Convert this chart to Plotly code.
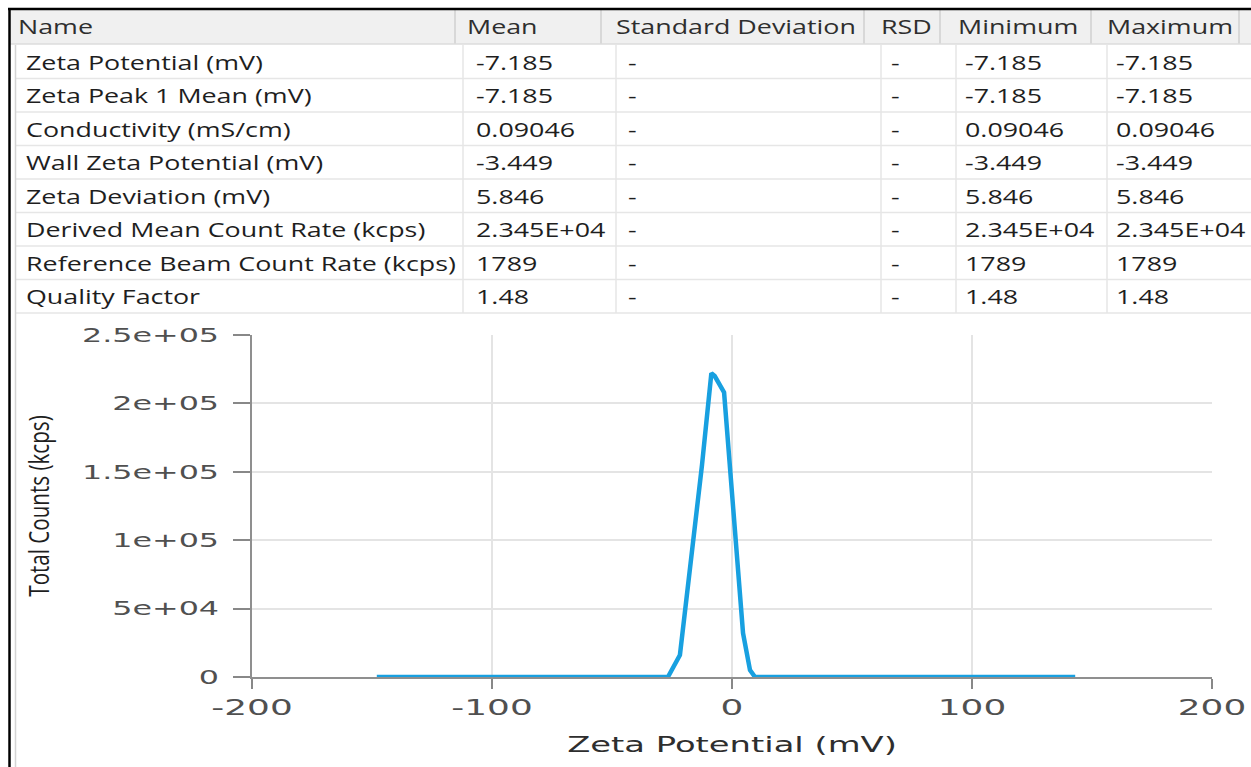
import plotly.graph_objects as go

W, H = 1251, 767

# ---- summary table ----
header_labels = ["Name", "Mean", "Standard Deviation", "RSD", "Minimum", "Maximum"]
row_names = [
    "Zeta Potential (mV)",
    "Zeta Peak 1 Mean (mV)",
    "Conductivity (mS/cm)",
    "Wall Zeta Potential (mV)",
    "Zeta Deviation (mV)",
    "Derived Mean Count Rate (kcps)",
    "Reference Beam Count Rate (kcps)",
    "Quality Factor",
]
mean_vals = ["-7.185", "-7.185", "0.09046", "-3.449", "5.846", "2.345E+04", "1789", "1.48"]
std_vals = ["-", "-", "-", "-", "-", "-", "-", "-"]
rsd_vals = ["-", "-", "-", "-", "-", "-", "-", "-"]
min_vals = ["-7.185", "-7.185", "0.09046", "-3.449", "5.846", "2.345E+04", "1789", "1.48"]
max_vals = ["-7.185", "-7.185", "0.09046", "-3.449", "5.846", "2.345E+04", "1789", "1.48"]

# ---- zeta potential distribution ----
zeta_mv = [-148, -26.7, -21.7, -17.0, -12.5, -8.6, -7.2, -3.3, 0.5, 4.6, 7.5, 9.6, 143]
total_counts = [0, 0, 1.6e4, 8.7e4, 1.55e5, 2.22e5, 2.2e5, 2.08e5, 1.23e5, 3.2e4, 5e3, 0, 0]

x_tick_vals = [-200, -100, 0, 100, 200]
x_tick_text = ["-200", "-100", "0", "100", "200"]
y_tick_vals = [0, 5e4, 1e5, 1.5e5, 2e5, 2.5e5]
y_tick_text = ["0", "5e+04", "1e+05", "1.5e+05", "2e+05", "2.5e+05"]


def fx(x):
    return x / W


def fy(y):
    return 1 - y / H


# table geometry (pixels)
HEAD_TOP, HEAD_BOT = 10, 44
ROW_TOP, ROW_H = 45, 33.5
HEAD_EDGES = [10, 455, 601, 864, 940, 1091, 1239]
HEAD_TEXT_X = [16, 465, 614, 879, 956, 1105]
BODY_EDGES = [16, 463, 616, 881, 956, 1107]
BODY_TEXT_X = [24, 474, 626, 889, 963, 1114]

TABLE_FONT = dict(family="Open Sans", size=20.5, color="#1e1e1e", weight=500)

shapes = []
annotations = []


def hline(y, x0, x1, color, width):
    shapes.append(dict(type="line", xref="paper", yref="paper", x0=fx(x0), x1=fx(x1),
                       y0=fy(y), y1=fy(y), line=dict(color=color, width=width), layer="below"))


def vline(x, y0, y1, color, width):
    shapes.append(dict(type="line", xref="paper", yref="paper", x0=fx(x), x1=fx(x),
                       y0=fy(y0), y1=fy(y1), line=dict(color=color, width=width), layer="below"))


# header band
shapes.append(dict(type="rect", xref="paper", yref="paper", x0=fx(10), x1=fx(W),
                   y0=fy(HEAD_BOT), y1=fy(HEAD_TOP), fillcolor="#f0f0f0",
                   line=dict(width=0), layer="below"))
for e in HEAD_EDGES[1:]:
    vline(e, HEAD_TOP, HEAD_BOT, "#d8d8d8", 2)
hline(HEAD_BOT, 10, W, "#dcdcdc", 1.5)

n_rows = len(row_names)
body_bottom = ROW_TOP + ROW_H * n_rows
for i in range(1, n_rows + 1):
    hline(ROW_TOP + ROW_H * i, 16, W, "#e6e6e6", 1.5)
for e in BODY_EDGES[1:]:
    vline(e, ROW_TOP, body_bottom, "#e6e6e6", 1.5)
# panel edge on the left
vline(15.5, ROW_TOP, H, "#d4d4d4", 1.5)

# outer frame
vline(9.5, 8, H, "#000000", 2.5)
hline(9, 8, W, "#000000", 2.5)

for j, label in enumerate(header_labels):
    annotations.append(dict(xref="paper", yref="paper", x=fx(HEAD_TEXT_X[j]), y=fy(26),
                            text=label, showarrow=False, xanchor="left", yanchor="middle",
                            align="left", font=dict(TABLE_FONT, color="#2e2e2e")))

columns = [row_names, mean_vals, std_vals, rsd_vals, min_vals, max_vals]
for j, col in enumerate(columns):
    for i, val in enumerate(col):
        annotations.append(dict(xref="paper", yref="paper", x=fx(BODY_TEXT_X[j]),
                                y=fy(ROW_TOP + ROW_H * (i + 0.5)), text=val, showarrow=False,
                                xanchor="left", yanchor="middle", align="left", font=TABLE_FONT))

fig = go.Figure()
fig.add_trace(go.Scatter(
    x=zeta_mv, y=total_counts, mode="lines",
    line=dict(color="#18a0e0", width=4.5),
    hoverinfo="x+y", showlegend=False,
))

AXIS_LINE = "rgba(95,95,95,0.7)"
fig.update_layout(
    width=W, height=H,
    margin=dict(l=0, r=0, t=0, b=0),
    paper_bgcolor="white", plot_bgcolor="white",
    showlegend=False,
    shapes=shapes,
    annotations=annotations,
    xaxis=dict(
        domain=[fx(252), fx(1212)], range=[-200, 200],
        tickvals=x_tick_vals, ticktext=x_tick_text,
        showline=True, linecolor=AXIS_LINE, linewidth=2,
        ticks="outside", ticklen=10, tickwidth=2, tickcolor="#888888",
        showgrid=True, gridcolor="#e4e4e4", gridwidth=1.5, zeroline=False,
        tickfont=dict(family="DejaVu Sans", size=22, color="#505050"),
        ticklabelstandoff=0,
        title=dict(text="Zeta Potential (mV)", standoff=18,
                   font=dict(family="DejaVu Sans", size=20.6, color="#2e2e2e")),
        automargin=False, fixedrange=True,
    ),
    yaxis=dict(
        domain=[fy(677), fy(335)], range=[0, 2.5e5],
        tickvals=y_tick_vals, ticktext=y_tick_text,
        showline=True, linecolor=AXIS_LINE, linewidth=2,
        ticks="outside", ticklen=17, tickwidth=2, tickcolor="#888888",
        showgrid=True, gridcolor="#e4e4e4", gridwidth=1.5, zeroline=False,
        tickfont=dict(family="DejaVu Sans", size=19.5, color="#505050"),
        ticklabelstandoff=10,
        title=dict(text="Total Counts (kcps)", standoff=83,
                   font=dict(family="Open Sans", size=20.6, color="#1e1e1e", weight=500)),
        automargin=False, fixedrange=True,
    ),
)

# Widen the glyphs horizontally (the lettering in this layout is set extra-wide).
stretch_js = """
var gd = document.getElementById('{plot_id}');
function widen(sel, s) {
  gd.querySelectorAll(sel).forEach(function (el) {
    if (el.getAttribute('data-wide')) return;
    var b = el.getBBox();
    if (!b.width) return;
    var anchor = el.getAttribute('text-anchor') || 'start';
    var t = el.transform.baseVal.consolidate();
    var m = t ? t.matrix : {a: 1, b: 0, c: 0, d: 1, e: 0, f: 0};
    var rotated = Math.abs(m.b) > 1e-6;
    var ax = b.x + b.width / 2;
    if (!rotated && anchor === 'start') ax = b.x;
    if (!rotated && anchor === 'end') ax = b.x + b.width;
    var ay = b.y + b.height / 2;
    var px = m.a * ax + m.c * ay + m.e;
    var py = m.b * ax + m.d * ay + m.f;
    var old = el.getAttribute('transform') || '';
    el.setAttribute('transform', 'translate(' + px + ',' + py + ') scale(' + s + ',1) translate(' +
      (-px) + ',' + (-py) + ') ' + old);
    el.setAttribute('data-wide', '1');
  });
}
widen('.annotation-text', 1.31);
widen('.xtick text', 1.63);
widen('.ytick text', 1.63);
widen('.g-xtitle text', 1.64);
widen('.g-ytitle text', 1.36);
"""

fig.write_html("out.html", post_script=stretch_js, config={"displayModeBar": False})
